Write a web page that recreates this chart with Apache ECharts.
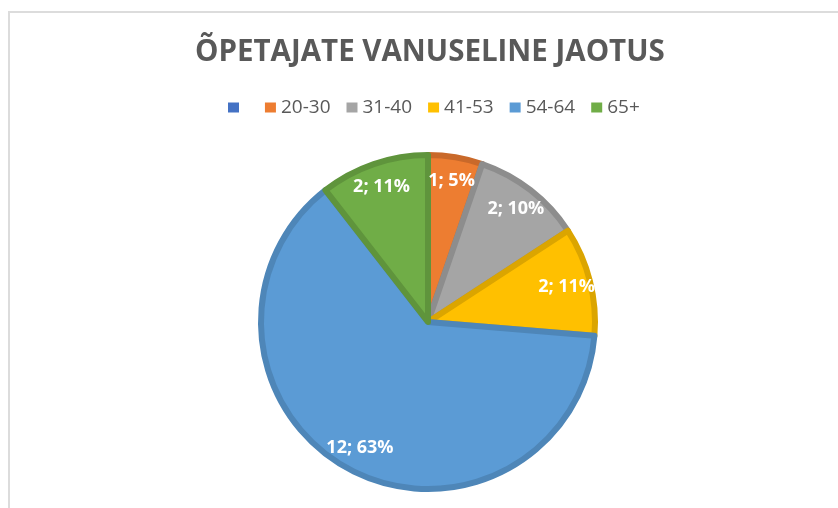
<!DOCTYPE html>
<html>
<head>
<meta charset="utf-8">
<script src="https://cdn.jsdelivr.net/npm/echarts@6/dist/echarts.min.js"></script>
<style>
html,body{margin:0;padding:0;background:#fff;}
#frame{position:absolute;left:8px;top:11px;right:-10px;bottom:-10px;border-left:2px solid #dcdcdc;border-top:2px solid #dcdcdc;}
#chart{position:absolute;left:0;top:0;width:838px;height:508px;}
</style>
</head>
<body>
<div id="frame"></div>
<div id="chart"></div>
<script>
const titleText = 'ÕPETAJATE VANUSELINE JAOTUS';
const categories = ['\u00A0', '20-30', '31-40', '41-53', '54-64', '65+'];
const values = [0, 1, 2, 2, 12, 2];
const percentLabels = [0, 5, 10, 11, 63, 11];
const fillColors = ['#4472C4', '#ED7D31', '#A5A5A5', '#FFC000', '#5B9BD5', '#70AD47'];
const edgeColors = ['#3A62A8', '#C9692A', '#8D8D8D', '#DBA500', '#4E86B8', '#5F943C'];

const chart = echarts.init(document.getElementById('chart'), null, {renderer: 'canvas'});

const mainData = categories.map((c, i) => ({
  name: c,
  value: values[i],
  itemStyle: {
    color: fillColors[i],
    borderColor: edgeColors[i],
    borderWidth: values[i] === 0 ? 0 : 6
  }
}));
const labelData = categories.map((c, i) => ({
  name: c,
  value: values[i],
  itemStyle: {color: 'rgba(0,0,0,0)', borderWidth: 0}
}));

chart.setOption({
  backgroundColor: 'transparent',
  animation: false,
  title: {
    text: titleText,
    left: 190,
    top: 33,
    textStyle: {
      fontFamily: 'Open Sans',
      fontWeight: 'bold',
      fontSize: 29.5,
      color: '#595959'
    }
  },
  legend: {
    top: 93,
    left: 223,
    itemWidth: 11,
    itemHeight: 10,
    itemGap: 16,
    icon: 'rect',
    data: categories.map((c, i) => ({name: c, itemStyle: {color: fillColors[i], borderWidth: 0}})),
    textStyle: {fontFamily: 'Open Sans', fontSize: 19, color: '#595959'},
    selectedMode: false
  },
  series: [
    {
      type: 'pie',
      center: [428, 322],
      radius: [0, 167],
      startAngle: 90,
      clockwise: true,
      label: {show: false},
      labelLine: {show: false},
      emphasis: {disabled: true},
      data: mainData,
      z: 2
    },
    {
      type: 'pie',
      center: [428, 322],
      radius: [0, 280],
      startAngle: 90,
      clockwise: true,
      silent: true,
      label: {
        show: true,
        position: 'inside',
        color: '#ffffff',
        fontFamily: 'Open Sans',
        fontWeight: 'bold',
        fontSize: 18,
        formatter: p => values[p.dataIndex] === 0 ? '' : values[p.dataIndex] + '; ' + percentLabels[p.dataIndex] + '%'
      },
      labelLine: {show: false},
      emphasis: {disabled: true},
      data: labelData,
      z: 3
    }
  ]
});
</script>
</body>
</html>
